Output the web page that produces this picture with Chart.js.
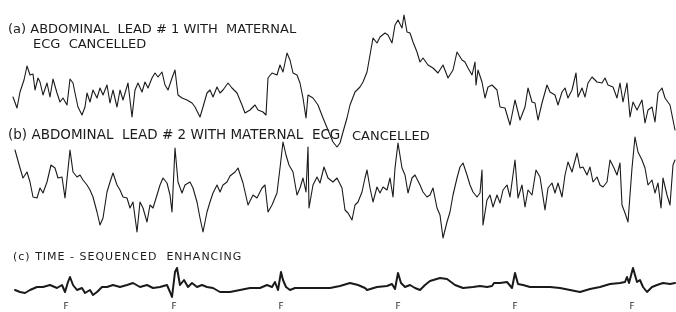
<!DOCTYPE html>
<html>
<head>
<meta charset="utf-8">
<title>Abdominal leads with maternal ECG cancelled</title>
<style>
  html, body { margin: 0; padding: 0; background: #fff; }
  #wrap { position: relative; width: 676px; height: 312px; overflow: hidden; }
  #ecg-chart { position: absolute; left: 0; top: 0; }
  .caption {
    position: absolute;
    font-family: 'DejaVu Sans', sans-serif;
    color: #1c1c1c;
    white-space: pre;
    line-height: 1;
  }
</style>
<script src="https://cdn.jsdelivr.net/npm/chart.js@4/dist/chart.umd.min.js"></script>
</head>
<body>
<div id="wrap">
  <canvas id="ecg-chart" width="676" height="312"></canvas>
  <div class="caption" style="left:8px;top:22px;font-size:13px;">(a) ABDOMINAL  LEAD # 1 WITH  MATERNAL</div>
  <div class="caption" style="left:33px;top:37px;font-size:13px;">ECG  CANCELLED</div>
  <div class="caption" style="left:8px;top:128px;font-size:13.5px;">(b) ABDOMINAL  LEAD # 2 WITH MATERNAL  ECG</div>
  <div class="caption" style="left:352px;top:129px;font-size:13px;">CANCELLED</div>
  <div class="caption" style="left:13px;top:251px;font-size:11px;letter-spacing:1px;">(c) TIME - SEQUENCED  ENHANCING</div>
</div>
<script>
'use strict';

// time axis: arbitrary units along the strip
const leadOneTime = [13, 17, 20, 24, 27, 30, 33, 35, 38, 40, 43, 47, 50, 53, 57, 60, 63, 67, 70, 73, 75, 78, 82, 85, 87, 90, 93, 97, 100, 103, 107, 110, 113, 117, 120, 123, 128, 132, 135, 138, 142, 145, 148, 152, 155, 158, 162, 165, 168, 172, 175, 178, 182, 187, 192, 195, 200, 203, 207, 210, 213, 217, 220, 223, 228, 232, 237, 242, 245, 250, 255, 258, 263, 266, 268, 272, 277, 280, 283, 287, 290, 293, 297, 300, 303, 306, 308, 313, 318, 323, 328, 333, 337, 340, 343, 347, 350, 355, 360, 363, 367, 370, 373, 377, 380, 385, 388, 392, 395, 398, 402, 404, 407, 410, 413, 417, 420, 423, 428, 433, 438, 443, 448, 453, 457, 462, 465, 468, 472, 475, 476, 478, 482, 485, 488, 492, 497, 500, 505, 510, 515, 520, 525, 528, 532, 535, 538, 542, 547, 550, 555, 558, 562, 565, 568, 572, 576, 578, 582, 585, 588, 592, 597, 602, 605, 608, 613, 617, 620, 623, 627, 630, 633, 637, 642, 645, 648, 652, 655, 658, 662, 665, 670, 675];
const leadOneValues = [3, -8, 8, 20, 34, 25, 26, 10, 22, 18, 5, 17, 3, 21, 7, -2, 2, -5, 21, 17, 7, -7, -15, -7, 7, -2, 10, 2, 12, 5, 15, -3, 10, -7, 10, 0, 17, -17, 10, 17, 8, 18, 12, 22, 27, 23, 28, 15, 10, 22, 30, 5, 2, 0, -3, -7, -17, -7, 7, 10, 3, 13, 7, 10, 17, 12, 7, -5, -13, -10, -5, -10, -12, -15, 22, 27, 25, 35, 28, 47, 40, 27, 25, 17, 2, -18, 5, 2, -5, -18, -30, -42, -47, -43, -32, -18, -5, 8, 13, 18, 28, 45, 62, 57, 63, 67, 65, 57, 75, 80, 72, 85, 68, 67, 58, 48, 38, 42, 35, 32, 27, 35, 22, 30, 48, 40, 38, 32, 25, 38, 15, 30, 18, 2, 13, 15, 10, -7, -8, -25, 0, -20, -7, 12, -2, -3, -20, -3, 15, 8, 5, -5, 8, 12, 2, 10, 27, 3, 12, 3, 17, 23, 18, 17, 22, 15, 13, 2, 17, -2, 17, -17, -2, -10, 0, -23, -10, -7, -22, 7, 12, 2, -5, -30];

const leadTwoTime = [15, 20, 23, 27, 30, 33, 37, 40, 43, 47, 51, 55, 58, 62, 65, 70, 73, 77, 80, 83, 87, 90, 93, 97, 100, 103, 107, 110, 113, 117, 120, 123, 127, 130, 133, 137, 140, 143, 147, 150, 153, 157, 160, 163, 167, 170, 172, 175, 178, 182, 185, 190, 193, 197, 200, 203, 207, 210, 213, 217, 220, 223, 227, 230, 235, 238, 243, 248, 253, 257, 262, 265, 268, 272, 277, 280, 283, 286, 289, 293, 297, 300, 303, 306, 308, 309, 313, 317, 320, 324, 328, 333, 337, 342, 345, 348, 352, 355, 358, 362, 365, 367, 370, 373, 377, 380, 383, 387, 390, 393, 395, 398, 402, 405, 408, 412, 415, 420, 423, 427, 430, 433, 437, 440, 443, 447, 450, 453, 457, 460, 463, 467, 470, 473, 477, 480, 482, 483, 487, 490, 493, 497, 500, 503, 507, 510, 515, 518, 522, 525, 528, 532, 536, 540, 545, 548, 552, 555, 558, 562, 565, 568, 572, 577, 580, 583, 587, 590, 593, 597, 600, 603, 607, 610, 614, 617, 620, 622, 625, 628, 632, 635, 638, 642, 645, 648, 652, 655, 658, 661, 663, 667, 670, 673, 675];
const leadTwoValues = [45, 27, 17, 23, 13, -2, -3, 7, 2, 13, 30, 27, 17, 18, -3, 45, 23, 18, 20, 15, 10, 5, -2, -17, -30, -23, 3, 13, 22, 10, 5, -2, -3, -13, -7, -37, -7, -13, -27, -10, -13, 0, 10, 17, 12, 0, -17, 47, 13, 2, 10, 13, 7, -7, -23, -37, -17, -7, 2, 10, 3, 10, 13, 19, 23, 27, 12, -10, 0, -3, 7, 10, -17, -10, 2, 27, 53, 40, 30, 23, 0, 7, 17, 3, 48, -13, 10, 18, 12, 28, 17, 13, 17, 7, -15, -18, -25, -10, -7, 3, 17, 25, 7, -7, 8, 2, 8, 5, 17, -2, 27, 52, 27, 20, 2, 17, 20, 10, 3, -2, 0, 7, -13, -20, -43, -27, -17, 0, 17, 28, 32, 20, 10, 3, -2, 2, 25, -30, -5, 0, -12, 0, -8, 5, 10, -2, 35, -3, 10, -12, 5, 0, 25, 18, -15, 7, 12, 2, 12, -2, 20, 33, 23, 42, 27, 28, 20, 28, 13, 18, 10, 8, 13, 35, 27, 20, 32, -10, -18, -27, 27, 58, 43, 35, 27, 10, 15, 2, 12, -13, 17, 0, -10, 30, 35];

const enhancedTime = [15, 20, 25, 30, 37, 43, 50, 57, 62, 65, 68, 70, 73, 77, 82, 85, 90, 93, 97, 102, 107, 113, 120, 127, 133, 140, 147, 153, 160, 167, 170, 172, 175, 177, 180, 184, 188, 192, 197, 202, 207, 213, 220, 230, 240, 250, 260, 267, 272, 275, 278, 281, 283, 286, 290, 295, 300, 310, 320, 330, 340, 350, 358, 365, 367, 377, 387, 392, 395, 398, 401, 405, 410, 415, 420, 425, 430, 440, 447, 455, 463, 473, 480, 487, 492, 494, 500, 507, 512, 515, 518, 523, 530, 540, 550, 560, 570, 580, 590, 600, 610, 620, 625, 627, 629, 633, 637, 640, 643, 647, 652, 657, 663, 670, 675];
const enhancedValues = [-2, -4, -5, -2, 1, 1, 3, 0, 3, -4, 6, 11, 3, -2, 0, -5, -2, -7, -4, 1, 1, 3, 1, 3, 5, 1, 3, 0, 1, 3, -4, -9, 16, 20, 3, 8, 1, 5, 1, 3, 1, 0, -4, -4, -2, 0, 0, 3, 1, 6, -2, 16, 8, 1, -2, 0, 0, 0, 0, 0, 2, 5, 3, 0, -2, 1, 2, 4, -1, 15, 5, 1, 3, 0, -2, 3, 7, 10, 9, 3, 0, 1, 2, 1, 2, 5, 5, 6, 0, 15, 4, 3, 1, 1, 1, 0, -2, -4, -1, 1, 4, 5, 6, 11, 5, 20, 6, 8, 1, -4, 1, 3, 5, 4, 5];

// fetal complexes marked under trace (c)
const fetalBeats = [66, 174, 281, 398, 515, 632];

const PLOT_HEIGHT = 298; // canvas height less the row of F marks
const TRACE_COLOR = '#1a1a1a';

document.addEventListener('DOMContentLoaded', drawStrips);

function toPoints(times, values) {
  return times.map((t, i) => ({ x: t, y: values[i] }));
}

function traceDataset(label, times, values, axis, width) {
  return {
    label,
    data: toPoints(times, values),
    yAxisID: axis,
    borderColor: TRACE_COLOR,
    borderWidth: width,
    borderJoinStyle: 'round',
    borderCapStyle: 'round',
    pointRadius: 0,
    tension: 0,
    fill: false,
    clip: false,
  };
}

// each trace gets its own hidden axis; top is the value sitting on the top edge
function bandAxis(top) {
  return { type: 'linear', display: false, min: top - PLOT_HEIGHT, max: top };
}

function drawStrips() {
  const ctx = document.getElementById('ecg-chart').getContext('2d');
  new Chart(ctx, {
    type: 'line',
    data: {
      datasets: [
        traceDataset('Abdominal lead 1', leadOneTime, leadOneValues, 'yA', 1.1),
        traceDataset('Abdominal lead 2', leadTwoTime, leadTwoValues, 'yB', 1.1),
        traceDataset('Time-sequenced enhancing', enhancedTime, enhancedValues, 'yC', 2),
      ],
    },
    options: {
      responsive: false,
      animation: false,
      events: [],
      layout: { padding: 0 },
      plugins: { legend: { display: false }, tooltip: { enabled: false } },
      scales: {
        x: {
          type: 'linear',
          min: 0,
          max: 676,
          grid: { display: false, drawTicks: false },
          border: { display: false },
          afterBuildTicks: scale => { scale.ticks = fetalBeats.map(value => ({ value })); },
          afterFit: scale => { scale.height = 14; },
          ticks: {
            autoSkip: false,
            maxRotation: 0,
            padding: 3,
            color: '#2a2a2a',
            font: { family: 'DejaVu Sans', size: 9 },
            callback: () => 'F',
          },
        },
        yA: bandAxis(100),
        yB: bandAxis(195),
        yC: bandAxis(288),
      },
    },
  });
}
</script>
</body>
</html>
